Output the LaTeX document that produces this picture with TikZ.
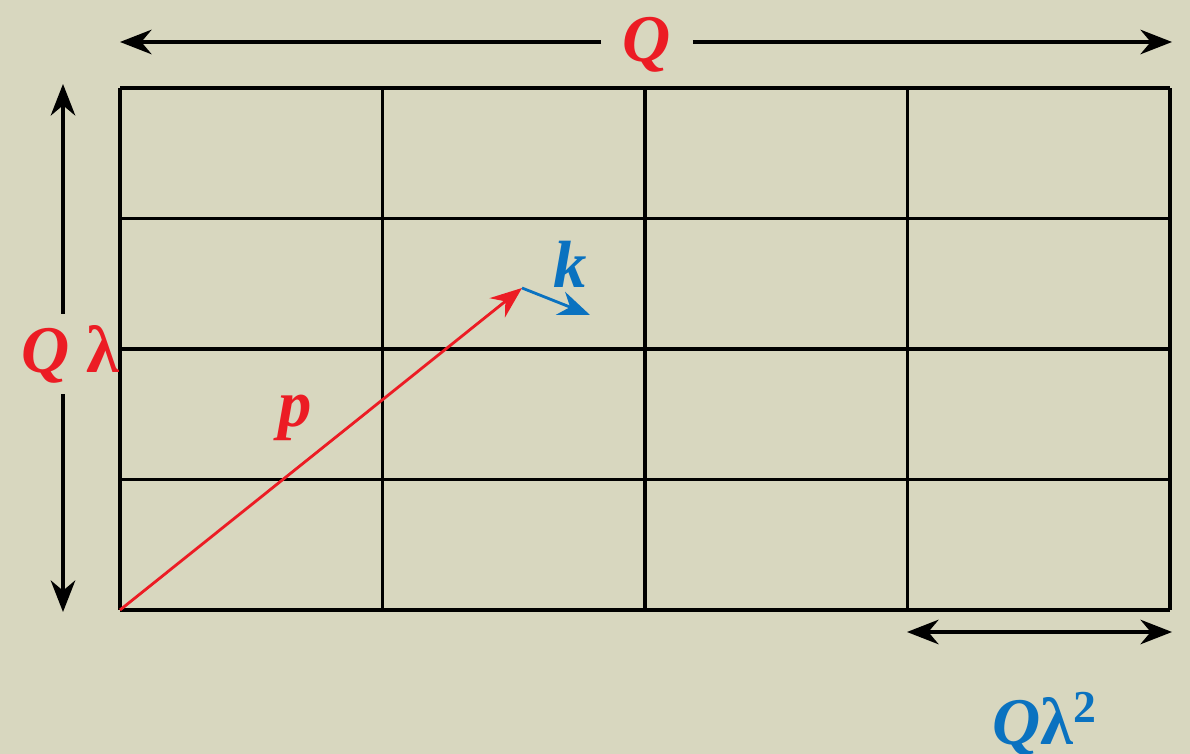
\documentclass[tikz,border=0pt]{standalone}
\usepackage{fontspec}
\setmainfont{Liberation Serif}
\usetikzlibrary{arrows.meta, positioning, calc}
\definecolor{bgpaper}{HTML}{D8D7BF}
\definecolor{qred}{HTML}{EC1C24}
\definecolor{kblue}{HTML}{0A72C0}
\tikzset{
  gridline/.style={draw=black, line width=0.9pt},
  dimarr/.style={-{Stealth[length=9pt, width=7pt]}, line width=0.9pt, color=black},
  vecarr/.style={-{Stealth[length=9pt, width=7pt]}, line width=0.8pt, color=#1},
  mathlbl/.style={font=\fontsize{19}{22}\selectfont\bfseries\itshape, text=#1, inner sep=1pt},
}

\begin{document}
\begin{tikzpicture}
  % Paper
  \fill[bgpaper] (0,0) rectangle (11.90,7.54);
  \useasboundingbox (0,0) rectangle (11.90,7.54);

  % Grid
  \foreach \x in {0,1,2,3,4}
    \draw[gridline] ({1.20+2.625*\x},1.44) -- ({1.20+2.625*\x},6.66);
  \foreach \y in {0,1,2,3,4}
    \draw[gridline] (1.20,{1.44+1.305*\y}) -- (11.70,{1.44+1.305*\y});

  % Width Q
  \coordinate (qL) at (1.20,7.12);
  \coordinate (qR) at (11.72,7.12);
  \node[mathlbl=qred, inner xsep=6pt] (qlab) at (6.47,7.09) {Q};
  \draw[dimarr] (qlab.west |- qL) -- (qL);
  \draw[dimarr] (qlab.east |- qR) -- (qR);

  % Height Q lambda
  \coordinate (hT) at (0.63,6.70);
  \coordinate (hB) at (0.63,1.42);
  \node[mathlbl=qred, inner ysep=3pt] (hlab) at (0.70,4.00) {Q {\upshape λ}};
  \draw[dimarr] (hT |- hlab.north) -- (hT);
  \draw[dimarr] (hB |- hlab.south) -- (hB);

  % Cell width Q lambda^2
  \coordinate (cL) at (9.07,1.22);
  \coordinate (cR) at (11.72,1.22);
  \draw[{Stealth[length=9pt, width=7pt]}-{Stealth[length=9pt, width=7pt]}, line width=0.9pt] (cL) -- (cR);
  \node[mathlbl=kblue] (clab) at (10.45,0.30) {Q{\upshape λ\textsuperscript{\fontsize{13}{15}\selectfont 2}}};

  % Vectors p and k
  \coordinate (orig) at (1.20,1.44);
  \coordinate (ptip) at (5.22,4.66);
  \coordinate (ktip) at (5.90,4.39);
  \draw[vecarr=qred] (orig) -- (ptip);
  \draw[vecarr=kblue] (ptip) -- (ktip);
  \node[mathlbl=qred] (plab) at (2.95,3.36) {p};
  \node[mathlbl=kblue] (klab) at (5.70,4.90) {k};
\end{tikzpicture}
\end{document}
